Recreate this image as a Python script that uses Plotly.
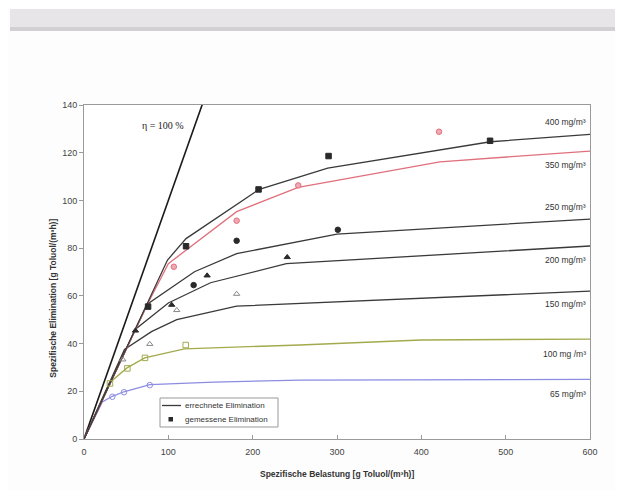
import plotly.graph_objects as go

# ---------------- data ----------------
eta_x = [0, 150]
eta_y = [0, 150]

c400_x = [0, 99, 121, 207, 289, 482, 600]
c400_y = [0, 75, 84, 104.5, 113.5, 124.6, 127.7]
c350_x = [0, 76, 100, 181, 254, 422, 600]
c350_y = [0, 57, 73.5, 95.3, 105.5, 116.2, 120.7]
c250_x = [0, 75, 131, 181, 300, 600]
c250_y = [0, 56.5, 70.1, 77.7, 85.9, 92.2]
c200_x = [0, 61, 100, 150, 240, 600]
c200_y = [0, 46, 57, 65.5, 73.5, 80.9]
c150_x = [0, 48, 80, 110, 181, 600]
c150_y = [0, 37.5, 45, 50, 55.7, 62]
c100_x = [0, 30, 51, 72, 119, 256, 400, 600]
c100_y = [0, 23.5, 29.8, 34, 37.8, 39.4, 41.5, 41.9]
c65_x = [0, 21.7, 33.6, 47.4, 78, 154, 256, 600]
c65_y = [0, 15.5, 17.9, 19.8, 22.8, 23.8, 24.7, 25]

m400_x = [76, 121, 207, 290, 481.5]
m400_y = [55.5, 80.8, 104.6, 118.6, 125]
m350_x = [106.5, 181, 254, 421]
m350_y = [72.2, 91.5, 106.3, 128.8]
m250_x = [130, 181, 301]
m250_y = [64.5, 83.1, 87.7]
m200_x = [61, 104, 146, 241]
m200_y = [45.4, 56.2, 68.5, 76.2]
m150_x = [46, 78, 110, 181]
m150_y = [33.3, 39.8, 54, 60.8]
m100_x = [30.8, 51.4, 72.3, 120.6]
m100_y = [23.3, 29.6, 34, 39.4]
m65_x = [33.6, 47.4, 78]
m65_y = [17.7, 19.6, 22.6]

label_texts = ["400 mg/m³", "350 mg/m³", "250 mg/m³", "200 mg/m³",
               "150 mg/m³", "100 mg /m³", "65 mg/m³"]
label_y = [132.7, 114.8, 97.4, 75, 56.4, 35.5, 18.9]

legend_texts = ["errechnete Elimination", "gemessene Elimination"]

x_ticks = [0, 100, 200, 300, 400, 500, 600]
y_ticks = [0, 20, 40, 60, 80, 100, 120, 140]

# ---------------- figure ----------------
DARK = "#3a3a3a"
PINK = "#e0707c"
OLIVE = "#a3aa4c"
BLUE = "#8c8ce0"
GRAY = "#8a8a8a"

# plot-area geometry on the page (pixels) used to place page-level decorations
PL, PR, PT, PB = 84, 590, 105, 439


def px(x):
    return (x - PL) / (PR - PL)


def py(y):
    return (PB - y) / (PB - PT)


fig = go.Figure()

fig.add_trace(go.Scatter(x=eta_x, y=eta_y, mode="lines",
                         line=dict(color="#1a1a1a", width=1.6), showlegend=False))

curves = [
    (c65_x, c65_y, BLUE),
    (c100_x, c100_y, OLIVE),
    (c150_x, c150_y, DARK),
    (c200_x, c200_y, DARK),
    (c250_x, c250_y, DARK),
    (c350_x, c350_y, PINK),
    (c400_x, c400_y, DARK),
]
for cx, cy, col in curves:
    fig.add_trace(go.Scatter(x=cx, y=cy, mode="lines",
                             line=dict(color=col, width=1.3), showlegend=False))

markers = [
    (m65_x, m65_y, "circle-open", BLUE, BLUE),
    (m100_x, m100_y, "square-open", OLIVE, OLIVE),
    (m150_x, m150_y, "triangle-up-open", GRAY, GRAY),
    (m200_x, m200_y, "triangle-up", "#2a2a2a", "#2a2a2a"),
    (m250_x, m250_y, "circle", "#2a2a2a", "#2a2a2a"),
    (m350_x, m350_y, "circle", "#f2a8b4", PINK),
    (m400_x, m400_y, "square", "#2a2a2a", "#2a2a2a"),
]
for mx, my, sym, col, lcol in markers:
    fig.add_trace(go.Scatter(x=mx, y=my, mode="markers",
                             marker=dict(symbol=sym, color=col, size=5.5,
                                         line=dict(color=lcol, width=1)),
                             showlegend=False))

for t, yv in zip(label_texts, label_y):
    fig.add_annotation(x=598, y=yv, xref="x", yref="y", text=t,
                       showarrow=False, xanchor="right", yanchor="middle",
                       font=dict(family="Liberation Sans, Arial", size=8.5, color="#333"))

fig.add_annotation(x=94, y=131.6, xref="x", yref="y", text="η = 100 %",
                   showarrow=False, xanchor="center", yanchor="middle",
                   font=dict(family="Liberation Serif, Times New Roman", size=10, color="#222"))

fig.add_annotation(x=px(53), y=0.42, xref="paper", yref="paper",
                   text="<b>Spezifische Elimination [g Toluol/(m³h)]</b>",
                   textangle=-90, showarrow=False, xanchor="center", yanchor="middle",
                   font=dict(family="Liberation Sans, Arial", size=8.5, color="#333"))
fig.add_annotation(x=0.5, y=py(474), xref="paper", yref="paper",
                   text="<b>Spezifische Belastung [g Toluol/(m³h)]</b>",
                   showarrow=False, xanchor="center", yanchor="middle",
                   font=dict(family="Liberation Sans, Arial", size=8.5, color="#333"))

# legend drawn by hand (box, line sample, marker sample, texts)
fig.add_shape(type="rect", xref="paper", yref="paper",
              x0=px(160), x1=px(278), y0=py(427), y1=py(398),
              fillcolor="#ffffff", line=dict(color="#999", width=1))
fig.add_shape(type="line", xref="paper", yref="paper",
              x0=px(162), x1=px(181), y0=py(405.5), y1=py(405.5),
              line=dict(color=DARK, width=1.3))
fig.add_shape(type="rect", xref="paper", yref="paper",
              x0=px(168.5), x1=px(173), y0=py(421.5), y1=py(417),
              fillcolor="#2a2a2a", line=dict(width=0))
for t, yy in zip(legend_texts, [405.5, 419.5]):
    fig.add_annotation(x=px(183), y=py(yy), xref="paper", yref="paper", text=t,
                       showarrow=False, xanchor="left", yanchor="middle",
                       font=dict(family="Liberation Sans, Arial", size=8, color="#333"))

# scan shadow band at the top of the page
fig.add_shape(type="rect", xref="paper", yref="paper",
              x0=px(10), x1=px(640), y0=py(28), y1=py(9),
              fillcolor="#e8e5e9", line=dict(width=0), layer="below")
fig.add_shape(type="rect", xref="paper", yref="paper",
              x0=px(10), x1=px(640), y0=py(31), y1=py(27),
              fillcolor="#d2d0d3", line=dict(width=0), layer="below")

# the page is offset 8px by the default body margin of the html page
OFF = 8
fig.update_layout(
    width=623, height=490,
    margin=dict(l=PL - OFF, r=623 + OFF - PR, t=PT - OFF, b=490 + OFF - PB),
    paper_bgcolor="#fdfdfd", plot_bgcolor="#ffffff",
    font=dict(family="Liberation Sans, Arial", size=9, color="#444"),
    showlegend=False,
    xaxis=dict(range=[0, 600], tickvals=x_ticks, showgrid=False, zeroline=False,
               showline=True, mirror=True, linecolor="#9a9a9a", linewidth=1,
               ticks="inside", ticklen=4, tickcolor="#9a9a9a",
               ticklabelstandoff=4),
    yaxis=dict(range=[0, 140], tickvals=y_ticks, showgrid=False, zeroline=False,
               showline=True, mirror=True, linecolor="#9a9a9a", linewidth=1,
               ticks="outside", ticklen=4, tickcolor="#9a9a9a"),
)

fig.write_html("out.html")
